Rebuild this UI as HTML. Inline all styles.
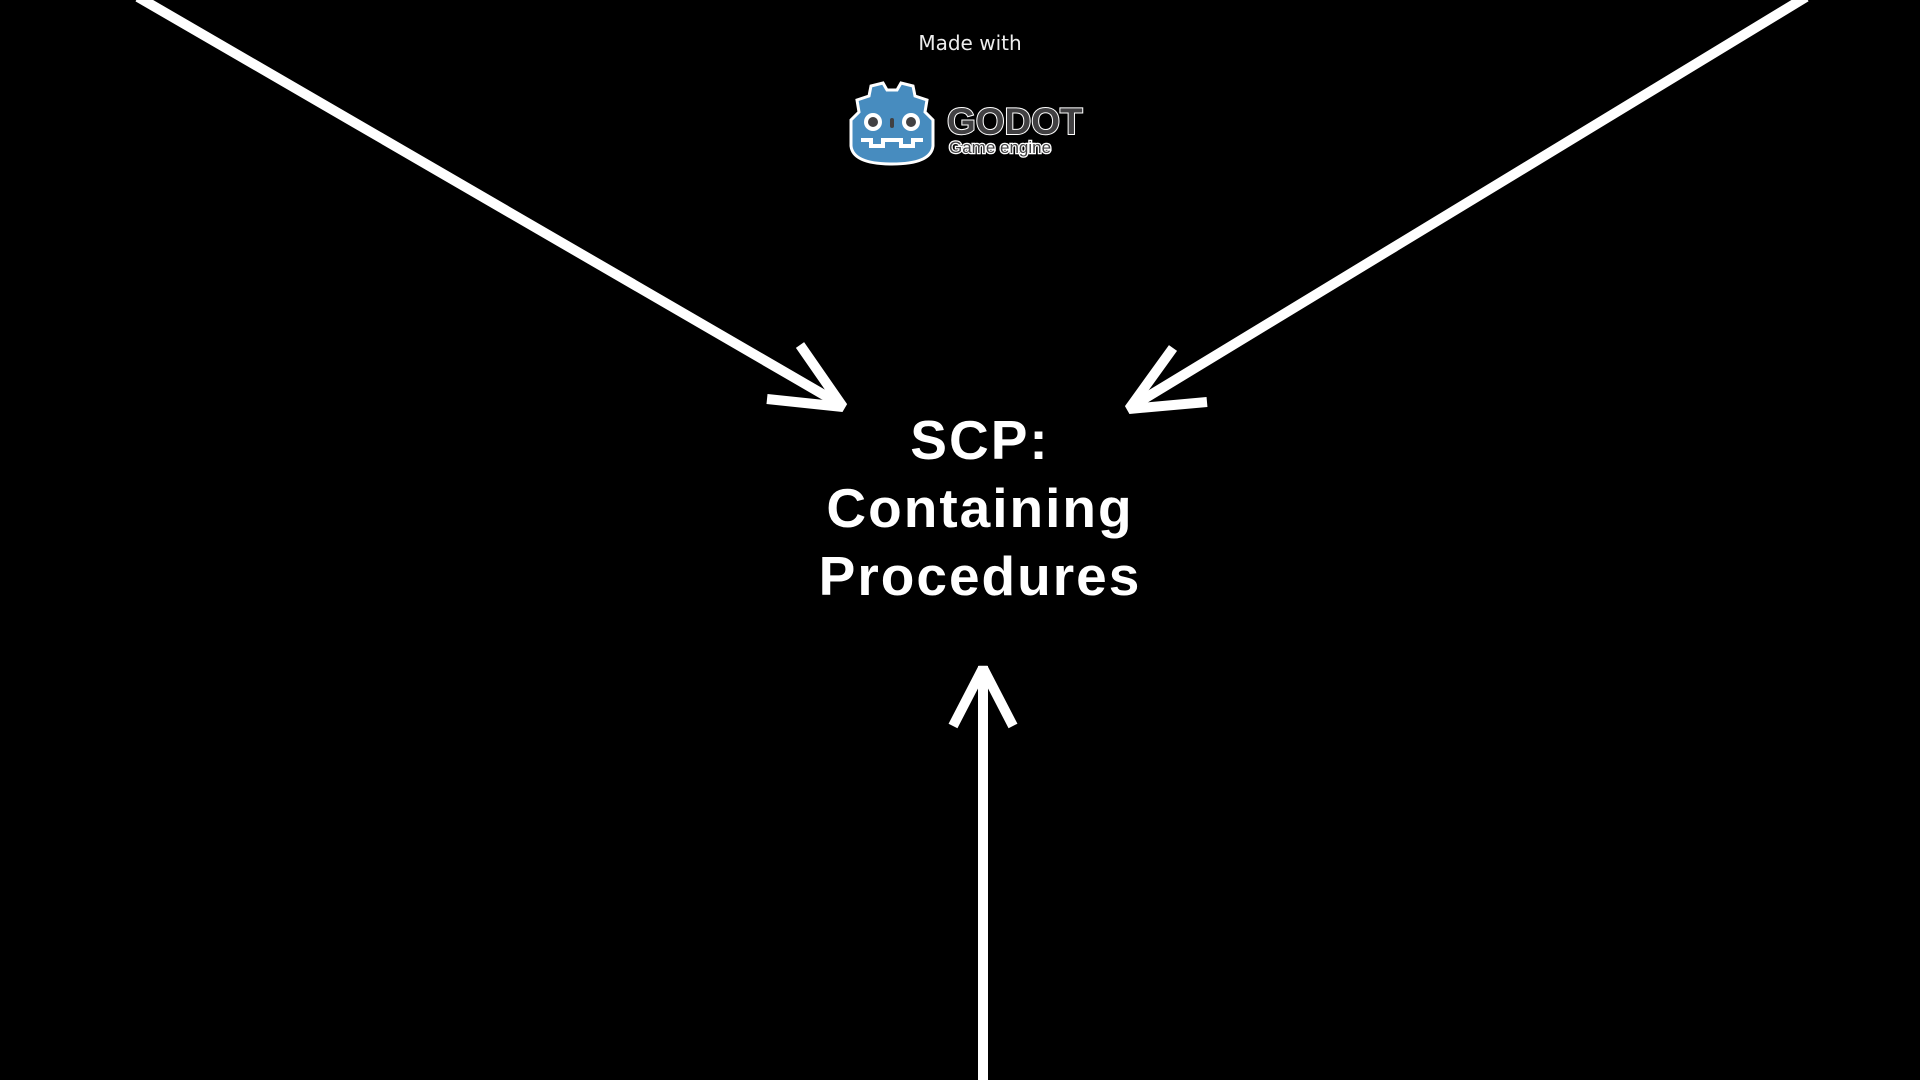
<!DOCTYPE html>
<html><head><meta charset="utf-8"><style>
html,body{margin:0;padding:0;background:#000;width:1920px;height:1080px;overflow:hidden}
.t{position:absolute;left:730px;width:500px;text-align:center;color:#fff;font-family:"Liberation Sans",sans-serif;font-weight:bold;font-size:55px;letter-spacing:2px;line-height:68px;top:406px}
.m{position:absolute;left:870px;width:200px;text-align:center;color:#eee;font-family:"DejaVu Sans",sans-serif;font-size:20px;top:31px}
</style></head><body>
<svg width="1920" height="1080" style="position:absolute;left:0;top:0">
<g stroke="#fff" stroke-width="10" fill="none" stroke-linejoin="bevel">
<line x1="138" y1="-3" x2="838" y2="403"/>
<polyline points="767,399 843,407 800,345"/>
<line x1="1806" y1="-3" x2="1134" y2="405"/>
<polyline points="1207,402 1129,409 1173,348"/>
<line x1="983" y1="666" x2="983" y2="1080"/>
<polyline points="953,726 983,668 1013,726"/>
</g>
<g transform="translate(847,80)">
<path d="M10,20 L22,16 L24,6 L36,3 L40,10 L50,10 L54,3 L66,6 L68,16 L80,20 L78,32 L86,40 L86,66 Q84,84 45,84 Q6,84 4,66 L4,40 L12,32 Z" fill="#478cbf" stroke="#fff" stroke-width="3"/>
<path d="M14,60 L24,60 L24,66 L36,66 L36,60 L54,60 L54,66 L66,66 L66,60 L76,60" stroke="#fff" stroke-width="4" fill="none"/>
<circle cx="26" cy="42" r="9" fill="#fff"/><circle cx="26" cy="42" r="5" fill="#414042"/>
<circle cx="64" cy="42" r="9" fill="#fff"/><circle cx="64" cy="42" r="5" fill="#414042"/>
<rect x="43" y="38" width="4" height="10" rx="2" fill="#414042"/>
</g>
<text x="947" y="134" font-family="Liberation Sans" font-weight="bold" font-size="37" fill="#414042" stroke="#fff" stroke-width="2" paint-order="stroke">GODOT</text>
<text x="949" y="153" font-family="Liberation Sans" font-size="17" fill="#414042" stroke="#fff" stroke-width="2.5" paint-order="stroke">Game engine</text>
</svg>
<div class="m">Made with</div>
<div class="t">SCP:<br>Containing<br>Procedures</div>
</body></html>
